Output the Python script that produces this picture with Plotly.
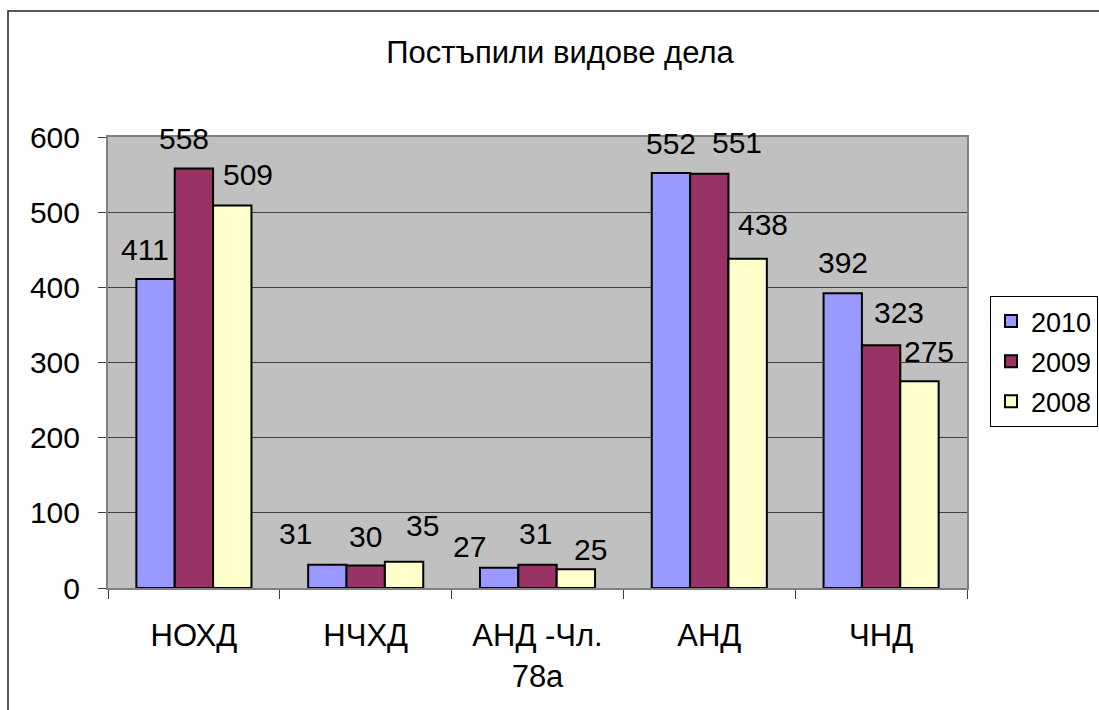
import plotly.graph_objects as go

categories = ["НОХД", "НЧХД", "АНД -Чл.<br>78а", "АНД", "ЧНД"]
series_names = ["2010", "2009", "2008"]
values_2010 = [411, 31, 27, 552, 392]
values_2009 = [558, 30, 31, 551, 323]
values_2008 = [509, 35, 25, 438, 275]
y_ticks = [0, 100, 200, 300, 400, 500, 600]

# label placement nudges (pixels), styling only
label_dx = [[-11, -32, -30, 0, 0],
            [-10, 0, -2, 28, 18],
            [16, 18, 15, 15, 10]]
label_dy = [[30, 31, 21, 30, 31],
            [30, 29, 31, 31, 33],
            [31, 36, 20, 34, 30]]

all_values = [values_2010, values_2009, values_2008]
colors = ["#9999FF", "#993366", "#FFFFCC"]
FONT = "Liberation Sans, Arial, sans-serif"
FS = 30

W, H = 1099, 710
L, R, T, B = 108, 967, 137, 588

fig = go.Figure()
for i, (name, vals) in enumerate(zip(series_names, all_values)):
    fig.add_trace(go.Bar(
        x=categories, y=vals, name=name,
        marker=dict(color=colors[i], line=dict(color="black", width=2)),
        legendgroup=name,
    ))

bargap = 0.33
bw = (1 - bargap) / 3
annotations = []
for i, vals in enumerate(all_values):
    off = (i - 1) * bw
    for j, v in enumerate(vals):
        annotations.append(dict(
            x=j + off, y=v, xref="x", yref="y", text=str(v), showarrow=False,
            yanchor="middle", xanchor="center",
            xshift=label_dx[i][j], yshift=label_dy[i][j],
            font=dict(size=FS, color="black", family=FONT),
        ))

pw = R - L
ph = B - T
def px_x(p):
    return (p - L) / pw
def px_y(p):
    return (B - p) / ph

shapes = [dict(type="rect", xref="paper", yref="paper",
               x0=px_x(8), x1=px_x(1110), y0=px_y(720), y1=px_y(11),
               line=dict(color="#202020", width=1.5), fillcolor="rgba(0,0,0,0)", layer="below")]

fig.update_layout(
    width=W, height=H,
    margin=dict(l=L, r=W - R, t=T, b=H - B, autoexpand=False),
    paper_bgcolor="white", plot_bgcolor="#C0C0C0",
    bargap=bargap, bargroupgap=0, barmode="group",
    font=dict(family=FONT, size=FS, color="black"),
    title=dict(text="Постъпили видове дела", x=560 / W, xref="container", xanchor="center",
               y=1 - 52 / H, yref="container", yanchor="middle",
               font=dict(size=31, family=FONT, color="black")),
    legend=dict(x=px_x(990), y=px_y(296), xanchor="left", yanchor="top",
                bordercolor="black", borderwidth=1, bgcolor="white",
                font=dict(size=27, family=FONT), tracegroupgap=2,
                itemwidth=30),
    annotations=annotations,
    shapes=shapes,
    showlegend=True,
)
fig.update_xaxes(type="category", tickson="boundaries", ticks="outside", ticklen=9,
                 tickcolor="#404040", showline=True, linecolor="#808080", linewidth=2,
                 showgrid=False, ticklabelstandoff=19, mirror=True,
                 tickfont=dict(size=31, family=FONT))
fig.update_yaxes(range=[0, 600], tickvals=y_ticks, ticks="outside", ticklen=8,
                 tickcolor="#404040", showline=True, linecolor="#808080", linewidth=2,
                 mirror=True, showgrid=True, gridcolor="#404040", gridwidth=1,
                 zeroline=False, ticklabelstandoff=12,
                 tickfont=dict(size=FS, family=FONT))

fig.write_html("out.html", config={"displayModeBar": False},
               post_script="document.body.style.margin='0px';")
